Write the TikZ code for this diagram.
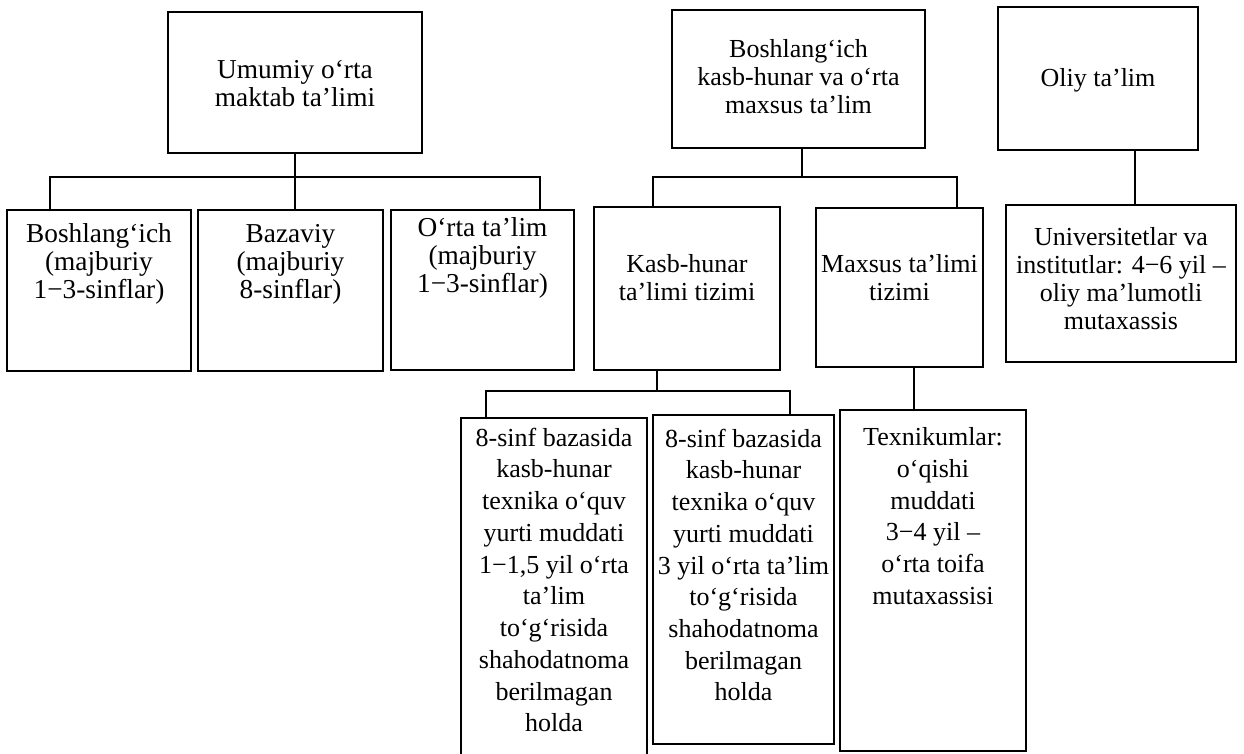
\documentclass[tikz,border=0pt]{standalone}
\usepackage{fontspec}
\setmainfont{Liberation Serif}
\usetikzlibrary{fit}
\tikzset{
  box/.style={draw, line width=1.4pt, inner sep=0pt},
  txt/.style={align=center, inner sep=0pt, font=\fontsize{19.5}{21}\selectfont},
  btxt/.style={align=center, inner sep=0pt, font=\fontsize{20.5}{21}\selectfont},
  ltxt/.style={align=center, inner sep=0pt, font=\fontsize{19.5}{23.8}\selectfont},
  conn/.style={line width=1.4pt}
}
\begin{document}
\begin{tikzpicture}[x=0.75pt,y=-0.75pt]
\useasboundingbox (0,0) rectangle (1244,753);
% top level boxes
\node[box, fit={(168,12) (422,153)}] (a) {};
\node[box, fit={(672,10) (925,148)}] (b) {};
\node[box, fit={(998,7) (1198,150)}] (c) {};
% second level
\node[box, fit={(7,210) (191,371)}] (d1) {};
\node[box, fit={(198,210) (383,371)}] (d2) {};
\node[box, fit={(391,210) (574,370)}] (d3) {};
\node[box, fit={(594,207) (780,370)}] (e1) {};
\node[box, fit={(816,208) (983,367)}] (e2) {};
\node[box, fit={(1006,205) (1236,362)}] (f) {};
% third level
\node[box, fit={(461,418) (647,768)}] (g1) {};
\node[box, fit={(653,415) (834,744)}] (g2) {};
\node[box, fit={(840,410) (1026,751)}] (h) {};
% texts
\node[btxt] (ta) at (295,84) {Umumiy o‘rta\\maktab ta’limi};
\node[txt] (tb) at (798.5,77) {Boshlang‘ich\\kasb-hunar va o‘rta\\maxsus ta’lim};
\node[txt] (tc) at (1098,80) {Oliy ta’lim};
\node[btxt] (td1) at (99,264) {Boshlang‘ich\\(majburiy\\1−3-sinflar)};
\node[btxt] (td2) at (290.5,264) {Bazaviy\\(majburiy\\8-sinflar)};
\node[btxt] (td3) at (482.5,258) {O‘rta ta’lim\\(majburiy\\1−3-sinflar)};
\node[txt] (te1) at (687,278) {Kasb-hunar\\ta’limi tizimi};
\node[txt] (te2) at (899.5,278) {Maxsus ta’limi\\tizimi};
\node[txt] (tf) at (1121,279) {Universitetlar va\\institutlar: 4−6 yil –\\oliy ma’lumotli\\mutaxassis};
\node[ltxt] (tg1) at (554,580) {8-sinf bazasida\\kasb-hunar\\texnika o‘quv\\yurti muddati\\1−1,5 yil o‘rta\\ta’lim\\to‘g‘risida\\shahodatnoma\\berilmagan\\holda};
\node[ltxt] (tg2) at (743.5,565) {8-sinf bazasida\\kasb-hunar\\texnika o‘quv\\yurti muddati\\3 yil o‘rta ta’lim\\to‘g‘risida\\shahodatnoma\\berilmagan\\holda};
\node[ltxt] (th) at (933,516) {Texnikumlar:\\o‘qishi\\muddati\\3−4 yil –\\o‘rta toifa\\mutaxassisi};
% bus coordinates
\coordinate (a1) at (50,177);
\coordinate (a3) at (540,177);
\coordinate (bx) at (802,0);
\coordinate (b1) at (653,177);
\coordinate (b2) at (957,177);
\coordinate (cx) at (1135,0);
\coordinate (e1x) at (657,391);
\coordinate (g1x) at (486,391);
\coordinate (g2x) at (790,391);
\coordinate (e2x) at (914,0);
% connectors
\draw[conn] (a.south) -- (d2.north -| a.south);
\draw[conn] (d1.north -| a1) -- (a1) -- (a3) -- (d3.north -| a3);
\draw[conn] (b.south -| bx) -- (b1 -| bx);
\draw[conn] (e1.north -| b1) -- (b1) -- (b2) -- (e2.north -| b2);
\draw[conn] (c.south -| cx) -- (f.north -| cx);
\draw[conn] (e1.south -| e1x) -- (e1x);
\draw[conn] (g1.north -| g1x) -- (g1x) -- (g2x) -- (g2.north -| g2x);
\draw[conn] (e2.south -| e2x) -- (h.north -| e2x);
\end{tikzpicture}
\end{document}
